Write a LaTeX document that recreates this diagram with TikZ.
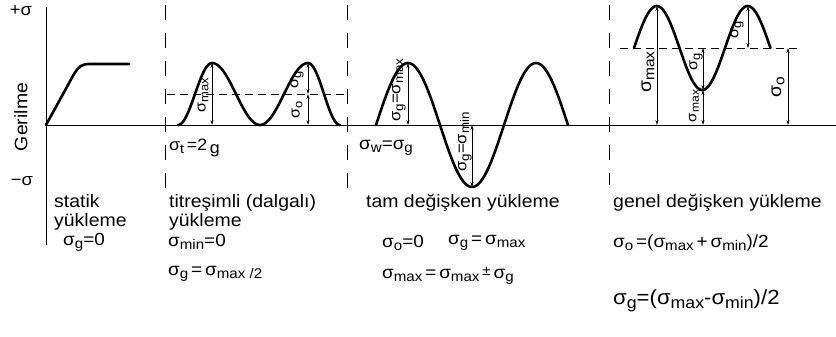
\documentclass[tikz,border=0pt]{standalone}
\usepackage{fontspec}
\setmainfont[FakeStretch=1.08]{Liberation Sans}
\usetikzlibrary{arrows.meta}

% sigma with a lowered index
\newcommand{\sgm}[1]{σ\raisebox{-0.35ex}{\scalebox{0.8}{#1}}}

\tikzset{
  axisline/.style={line width=1pt},
  divider/.style={line width=1pt,dash pattern=on 15pt off 13pt},
  meanline/.style={line width=0.7pt,dash pattern=on 8pt off 5pt},
  wave/.style={line width=2.6pt,line cap=round,line join=round},
  dimarrow/.style={{Stealth[length=5pt,width=3pt]}-{Stealth[length=5pt,width=3pt]},line width=0.6pt},
  caption/.style={anchor=north west,align=left,inner sep=0pt,font=\fontsize{18}{19}\selectfont},
  formula/.style={anchor=west,inner sep=0pt,font=\fontsize{17.5}{18}\selectfont},
  dimlabel/.style={rotate=90,inner sep=0pt,font=\fontsize{15}{15}\selectfont}
}

\begin{document}
\begin{tikzpicture}[x=1pt,y=-1pt]
  \useasboundingbox (0,0) rectangle (836,337);

  % axes
  \coordinate (O) at (46,125);
  \coordinate (ytop) at (46,7);
  \coordinate (ybot) at (46,245);
  \coordinate (xend) at (836,125);
  \draw[axisline] (ytop) -- (ybot);
  \draw[axisline] (O) -- (xend);
  \node[font=\fontsize{17}{17}\selectfont] (plus) at (21,11) {+σ};
  \node[font=\fontsize{17}{17}\selectfont] (minus) at (22,181) {−σ};
  \node[rotate=90,font=\fontsize{18}{18}\selectfont] (gerilme) at (21,117) {Gerilme};

  % panel borders
  \draw[divider] (165,5) -- (165,190);
  \draw[divider] (347,5) -- (347,190);
  \draw[divider] (609,5) -- (609,185);

  % statik
  \draw[wave] (O) -- (74,74) .. controls (79,66) and (82,64) .. (90,64) -- (129,64);

  % titresimli
  \coordinate (tPa) at (212,63);
  \coordinate (tPb) at (308,63);
  \coordinate (tMb) at (308,94);
  \draw[meanline] (167,94) -- (347,94);
  \draw[wave] plot[domain=178:212,samples=30] (\x,{94-31*cos((\x-212)/34*180)})
    -- plot[domain=212:308,samples=60] (\x,{94-31*cos((\x-212)/96*360)})
    -- plot[domain=308:340,samples=30] (\x,{94-31*cos((\x-308)/32*180)});
  \draw[dimarrow] (tPa) -- (tPa |- O);
  \draw[dimarrow] (tPb) -- (tMb);
  \draw[dimarrow] (tMb) -- (tMb |- O);
  \node[dimlabel] (tLmax) at (203,95) {\sgm{max}};
  \node[dimlabel] (tLg) at (297,80) {\sgm{g}};
  \node[dimlabel] (tLo) at (297,110) {\sgm{o}};
  \node[formula,font=\fontsize{16.5}{16}\selectfont] (tEq) at (169,148) {\sgm{t}\,=2\,\raisebox{-0.4ex}{g}};

  % tam degisken
  \coordinate (rP) at (408,63);
  \coordinate (rT) at (472,187);
  \draw[wave] plot[domain=376:568,samples=120] (\x,{125-62*sin((\x-376)/128*360)});
  \draw[dimarrow] (rP) -- (rP |- O);
  \draw[dimarrow] (rT) -- (rT |- O);
  \node[dimlabel,font=\fontsize{15.5}{15.5}\selectfont] (rLmax) at (399,90) {\sgm{g}=\sgm{max}};
  \node[dimlabel,font=\fontsize{15.5}{15.5}\selectfont] (rLmin) at (465,142) {\sgm{g}=\sgm{min}};
  \node[formula] (rEq) at (359,148) {\sgm{w}=\sgm{g}};

  % genel degisken
  \coordinate (gPa) at (657,6);
  \coordinate (gT) at (703,90);
  \coordinate (gM) at (703,48);
  \coordinate (gPb) at (748,6);
  \coordinate (gMb) at (748,48);
  \coordinate (gMr) at (788,48);
  \draw[meanline] (620,48) -- (800,48);
  \draw[wave] plot[domain=634:770.5,samples=100] (\x,{48-42*sin((\x-634)/91*360)});
  \draw[dimarrow] (gPa) -- (gPa |- O);
  \draw[dimarrow] (gM) -- (gT);
  \draw[dimarrow] (gT) -- (gT |- O);
  \draw[dimarrow] (gPb) -- (gMb);
  \draw[dimarrow] (gMr) -- (gMr |- O);
  \node[dimlabel,font=\fontsize{18}{18}\selectfont] (gLmax) at (648,72) {\sgm{max}};
  \node[dimlabel] (gLg) at (696,62) {\sgm{g}};
  \node[dimlabel,font=\fontsize{14}{14}\selectfont] (gLmaxb) at (694,106) {\sgm{max}};
  \node[dimlabel] (gLgb) at (737,30) {\sgm{g}};
  \node[dimlabel,font=\fontsize{18}{18}\selectfont] (gLo) at (778,87) {\sgm{o}};

  % captions
  \node[caption] (capS) at (54,194) {statik\\yükleme};
  \node[caption] (capT) at (169,194) {titreşimli (dalgalı)\\yükleme};
  \node[caption] (capR) at (366,194) {tam değişken yükleme};
  \node[caption] (capG) at (613,194) {genel değişken yükleme};

  % formulas
  \node[formula] (fS) at (63,242) {\sgm{g}=0};
  \node[formula] (fTa) at (168,242) {\sgm{min}=0};
  \node[formula] (fTb) at (168,274) {\sgm{g}\,=\,\sgm{max /2}};
  \node[formula] (fRa) at (382,243) {\sgm{o}=0};
  \node[formula] (fRb) at (448,243) {\sgm{g}\,=\,\sgm{max}};
  \node[formula] (fRc) at (382,276) {\sgm{max}\,=\,\sgm{max}\,\raisebox{0.3ex}{\scalebox{0.8}{±}}\,\sgm{g}};
  \node[formula] (fGa) at (613,243) {\sgm{o}\,=(\sgm{max}\,+\,\sgm{min})/2};
  \node[formula,font=\fontsize{20.5}{20}\selectfont] (fGb) at (613,301) {\sgm{g}=(\sgm{max}-\sgm{min})/2};
\end{tikzpicture}
\end{document}
